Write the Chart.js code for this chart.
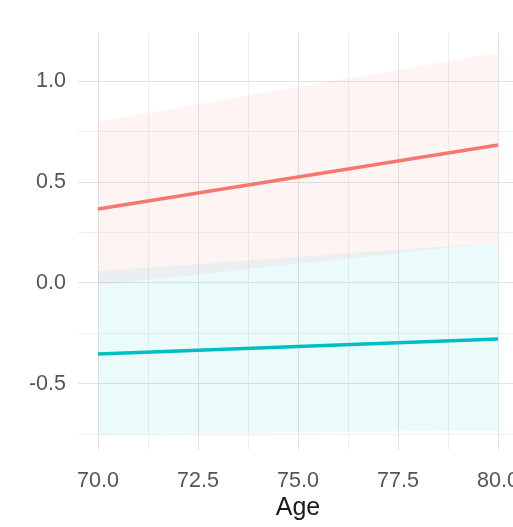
<!DOCTYPE html>
<html>
<head>
<meta charset="utf-8">
<script src="https://cdn.jsdelivr.net/npm/chart.js@4/dist/chart.umd.min.js"></script>
<style>
  html, body { margin: 0; padding: 0; background: #fff; overflow: hidden; }
  #wrap { width: 513px; height: 527px; overflow: hidden; }
  canvas { display: block; }
</style>
</head>
<body>
<div id="wrap">
  <canvas id="ageChart" width="518" height="527"></canvas>
</div>
<script>
// --- datos ---
const ages = [70, 80];

// grupo rojo: recta ajustada y banda de confianza
const redFit = [0.366, 0.683];
const redLow = [-0.01, 0.20];
const redHigh = [0.80, 1.14];

// grupo turquesa
const tealFit = [-0.351, -0.277];
const tealLow = [-0.75, -0.73];
const tealHigh = [0.06, 0.20];

// ejes
const xMajor = [70, 72.5, 75, 77.5, 80];
const xMinor = [71.25, 73.75, 76.25, 78.75];
const yMajor = [-0.5, 0, 0.5, 1];
const yMinor = [-0.75, -0.25, 0.25, 0.75];

const RED = "#F8766D";
const TEAL = "#00BFC4";
const FONT = "Liberation Sans, Arial, sans-serif";

const pts = (ys) => ages.map((a, i) => ({ x: a, y: ys[i] }));

function lineSet(ys, color) {
  return {
    data: pts(ys),
    borderColor: color,
    borderWidth: 3.5,
    pointRadius: 0,
    fill: false,
  };
}

function edgeSet(ys, fillTo, bg) {
  return {
    data: pts(ys),
    borderWidth: 0,
    borderColor: "rgba(0,0,0,0)",
    pointRadius: 0,
    fill: fillTo === null ? false : fillTo,
    backgroundColor: bg,
  };
}

const isMajor = (list, v) => list.some((m) => Math.abs(m - v) < 1e-6);

function setTicks(major, minor) {
  return (scale) => {
    scale.ticks = major
      .concat(minor)
      .sort((a, b) => a - b)
      .map((v) => ({ value: v }));
  };
}

// el panel llega hasta el borde: sin márgenes extra por las etiquetas
function fixSize(key, size) {
  return (s) => {
    s[key] = size;
    s.paddingLeft = 0;
    s.paddingRight = 0;
    s.paddingTop = 0;
    s.paddingBottom = 0;
  };
}

new Chart(document.getElementById("ageChart"), {
  type: "line",
  data: {
    datasets: [
      lineSet(redFit, RED), // 0
      lineSet(tealFit, TEAL), // 1
      edgeSet(redLow, null, "rgba(0,0,0,0)"), // 2
      edgeSet(redHigh, 2, "rgba(248,118,109,0.08)"), // 3
      edgeSet(tealLow, null, "rgba(0,0,0,0)"), // 4
      edgeSet(tealHigh, 4, "rgba(0,191,196,0.08)"), // 5
    ],
  },
  options: {
    responsive: false,
    animation: false,
    layout: { padding: { top: 33, left: 0, right: 0, bottom: 0 } },
    plugins: {
      legend: { display: false },
      tooltip: { enabled: false },
    },
    scales: {
      x: {
        type: "linear",
        min: 69.5,
        max: 80.5,
        afterBuildTicks: setTicks(xMajor, xMinor),
        afterFit: fixSize("height", 77),
        border: { display: false },
        grid: {
          drawTicks: false,
          color: (ctx) => (isMajor(xMajor, ctx.tick.value) ? "#e2e2e2" : "#efefef"),
          lineWidth: 1,
        },
        ticks: {
          autoSkip: false,
          maxRotation: 0,
          padding: 18,
          color: "#555555",
          font: { family: FONT, size: 21.5 },
          callback: (v) => (isMajor(xMajor, v) ? v.toFixed(1) : ""),
        },
        title: {
          display: true,
          text: "Age",
          color: "#1a1a1a",
          padding: { top: 0, bottom: 4 },
          font: { family: FONT, size: 25 },
        },
      },
      y: {
        type: "linear",
        min: -0.827,
        max: 1.238,
        afterBuildTicks: setTicks(yMajor, yMinor),
        afterFit: fixSize("width", 78),
        border: { display: false },
        grid: {
          drawTicks: false,
          color: (ctx) => (isMajor(yMajor, ctx.tick.value) ? "#e2e2e2" : "#efefef"),
          lineWidth: 1,
        },
        ticks: {
          autoSkip: false,
          padding: 12,
          color: "#555555",
          font: { family: FONT, size: 21.5 },
          callback: (v) => (isMajor(yMajor, v) ? v.toFixed(1) : ""),
        },
      },
    },
  },
});
</script>
</body>
</html>
